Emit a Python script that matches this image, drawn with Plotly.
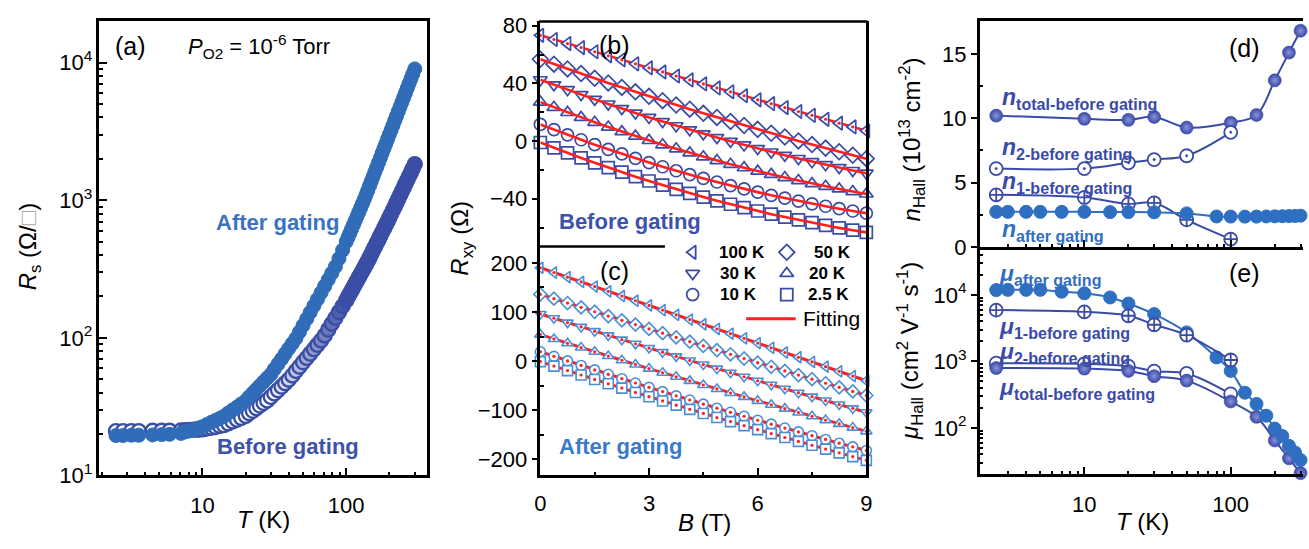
import math
import plotly.graph_objects as go

W, H = 1309, 549
FONT = "Arial, 'Liberation Sans', sans-serif"

C_AFTER_A = "#306cb8"
C_BEFORE_A = "#3b4ea6"
C_DARK = "#3a4aa8"
C_LIGHT = "#2f6fc2"
C_C = "#4a8ed6"
C_RED = "#ff1f1f"

# ---------------- (a) sheet resistance vs temperature ----------------
T_RS = [2.5, 2.8, 3.2, 3.6, 4.5, 5.2, 5.9,
        7.08, 7.59, 8.13, 8.71, 9.33, 10.0, 10.7, 11.5, 12.3, 13.2, 14.1, 15.1, 16.2, 17.4, 18.6, 20.0,
        21.1, 22.4, 23.7, 25.1, 26.6, 28.2, 29.9, 31.6, 33.5, 35.5, 37.6, 39.8, 42.2, 44.7, 47.3, 50.1,
        53.1, 56.2, 59.6, 63.1, 66.8, 70.8, 75.0, 79.4, 84.1, 89.1, 94.4, 100.0,
        102.9, 105.9, 109.0, 112.2, 115.5, 118.9, 122.3, 125.9, 129.6, 133.4, 137.3, 141.3, 145.4, 149.6,
        154.0, 158.5, 163.1, 167.9, 172.8, 177.8, 183.0, 188.4, 193.9, 199.5, 205.4, 211.3, 217.5, 223.9,
        230.4, 237.1, 244.1, 251.2, 258.5, 266.1, 273.8, 281.8, 290.1, 300.0]

RS_AFTER = [19.5, 19.5, 19.6, 19.6, 19.7, 19.8, 19.9,
            20.2, 20.7, 21.1, 21.6, 22.1, 22.6, 23.4, 24.3, 25.1, 26.0, 26.9, 28.4, 29.9, 31.4, 33.1, 34.9,
            37.2, 39.6, 42.2, 44.9, 47.9, 51.0, 54.3, 59.1, 64.4, 70.2, 76.6, 83.5, 91.0, 99.2, 110.4, 123.1,
            137.3, 153.2, 171.0, 190.7, 212.8, 237.3, 264.8, 295.4, 329.5, 376.7, 433.8, 499.4,
            536, 575, 617, 662, 711, 763, 818, 878, 943, 1011, 1092, 1180, 1276, 1379, 1490, 1610, 1741, 1881,
            2033, 2198, 2375, 2567, 2775, 2999, 3241, 3503, 3786, 4092, 4423, 4780, 5167, 5584, 6036, 6523,
            7051, 7620, 8236, 9018]

RS_BEFORE = [21.0, 21.0, 21.0, 21.0, 21.1, 21.1, 21.1,
             21.2, 21.3, 21.4, 21.5, 21.5, 21.6, 21.9, 22.2, 22.5, 22.9, 23.2, 23.9, 24.7, 25.4, 26.2, 27.1,
             28.3, 29.5, 30.8, 32.2, 33.6, 35.1, 37.2, 39.4, 41.7, 44.2, 46.8, 49.6, 53.3, 57.4, 61.7, 66.4,
             71.4, 76.8, 82.7, 88.9, 95.7, 104.0, 114.7, 126.6, 139.6, 153.9, 169.7, 187.2,
             198, 209, 221, 233, 246, 260, 275, 290, 306, 323, 342, 361, 383, 407, 433, 459, 488, 518,
             551, 585, 622, 660, 702, 745, 794, 846, 901, 960, 1023, 1089, 1161, 1237, 1317, 1403,
             1495, 1593, 1697, 1827]

# ---------------- (b), (c) Hall resistance vs field ----------------
B_FIELD = [0, 0.375, 0.75, 1.125, 1.5, 1.875, 2.25, 2.625, 3.0, 3.375, 3.75, 4.125, 4.5,
           4.875, 5.25, 5.625, 6.0, 6.375, 6.75, 7.125, 7.5, 7.875, 8.25, 8.625, 9.0]

TEMP_LABELS = ["100 K", "50 K", "30 K", "20 K", "10 K", "2.5 K"]
TEMP_SYMBOLS = ["triangle-left", "diamond", "triangle-down", "triangle-up", "circle", "square"]

RXY_B_100K = [73.3, 70.4, 67.6, 64.8, 61.9, 59.1, 56.3, 53.5, 50.7, 47.9, 45.1, 42.4, 39.6,
              36.8, 34.1, 31.4, 28.6, 25.9, 23.2, 20.5, 17.8, 15.1, 12.4, 9.8, 7.1]
RXY_B_50K = [56.7, 53.3, 50.0, 46.8, 43.5, 40.3, 37.2, 34.1, 31.0, 28.0, 25.0, 22.1, 19.2,
             16.4, 13.6, 10.8, 8.1, 5.4, 2.8, 0.1, -2.4, -4.9, -7.4, -9.8, -12.2]
RXY_B_30K = [42.5, 39.0, 35.6, 32.2, 28.9, 25.7, 22.5, 19.4, 16.4, 13.5, 10.6, 7.8, 5.0,
             2.4, -0.2, -2.7, -5.2, -7.6, -9.9, -12.1, -14.3, -16.4, -18.4, -20.4, -22.3]
RXY_B_20K = [27.0, 23.4, 19.8, 16.4, 13.0, 9.7, 6.5, 3.4, 0.4, -2.6, -5.4, -8.2, -10.9,
             -13.5, -16.1, -18.5, -20.9, -23.1, -25.3, -27.4, -29.5, -31.4, -33.2, -35.0, -36.7]
RXY_B_10K = [11.5, 7.9, 4.3, 0.9, -2.5, -5.7, -8.9, -12.0, -14.9, -17.8, -20.6, -23.3, -25.9,
             -28.4, -30.9, -33.2, -35.4, -37.6, -39.6, -41.6, -43.5, -45.2, -46.9, -48.5, -50.0]
RXY_B_2K5 = [-1.0, -4.7, -8.2, -11.7, -15.1, -18.4, -21.6, -24.7, -27.7, -30.6, -33.5, -36.2, -38.8,
             -41.4, -43.8, -46.2, -48.5, -50.7, -52.7, -54.7, -56.6, -58.4, -60.2, -61.8, -63.3]

RXY_A_100K = [190.0, 180.4, 170.8, 161.3, 151.7, 142.1, 132.5, 122.9, 113.3, 103.8, 94.2, 84.6, 75.0,
              65.4, 55.8, 46.3, 36.7, 27.1, 17.5, 7.9, -1.7, -11.3, -20.8, -30.4, -40.0]
RXY_A_50K = [136.0, 127.1, 118.2, 109.4, 100.5, 91.7, 83.0, 74.3, 65.5, 56.9, 48.2, 39.6, 31.0,
             22.4, 13.9, 5.3, -3.1, -11.6, -20.0, -28.4, -36.8, -45.1, -53.4, -61.7, -70.0]
RXY_A_30K = [96.0, 87.2, 78.4, 69.7, 61.0, 52.3, 43.7, 35.2, 26.6, 18.2, 9.7, 1.3, -7.0,
             -15.3, -23.6, -31.8, -40.0, -48.2, -56.3, -64.3, -72.4, -80.3, -88.3, -96.2, -104.0]
RXY_A_20K = [54.0, 45.1, 36.3, 27.6, 18.9, 10.3, 1.7, -6.8, -15.3, -23.7, -32.0, -40.3, -48.6,
             -56.7, -64.9, -72.9, -80.9, -88.9, -96.8, -104.6, -112.4, -120.1, -127.8, -135.4, -143.0]
RXY_A_10K = [19.0, 9.7, 0.4, -8.8, -17.9, -26.9, -35.8, -44.6, -53.4, -62.1, -70.7, -79.2, -87.6,
             -95.9, -104.2, -112.3, -120.4, -128.4, -136.3, -144.1, -151.9, -159.5, -167.1, -174.6, -182.0]
RXY_A_2K5 = [-1.0, -10.2, -19.3, -28.3, -37.3, -46.2, -55.0, -63.8, -72.5, -81.1, -89.7, -98.2, -106.6,
             -114.9, -123.2, -131.4, -139.5, -147.6, -155.5, -163.5, -171.3, -179.1, -186.8, -194.4, -202.0]

# ---------------- (d), (e) carrier density and mobility ----------------
T_TWO_BAND = [2.5, 10, 20, 30, 50, 100]
T_TOTAL = [2.5, 10, 20, 30, 50, 100, 150, 200, 250, 300]
T_AFTER = [2.5, 3, 4, 5, 7, 10, 15, 20, 30, 50, 80, 100, 125, 150, 175, 200, 225, 250, 275, 300]

N_TOTAL = [10.2, 9.95, 9.87, 10.1, 9.27, 9.65, 10.25, 12.94, 15.1, 16.8]
N_2 = [6.08, 6.08, 6.53, 6.78, 7.08, 8.9]
N_1 = [4.04, 3.84, 3.34, 3.42, 2.1, 0.6]
N_AFTER = [2.72, 2.72, 2.72, 2.72, 2.72, 2.72, 2.7, 2.7, 2.68, 2.6, 2.36, 2.35, 2.35, 2.35, 2.36,
           2.37, 2.38, 2.39, 2.4, 2.42]

MU_TOTAL = [795, 780, 720, 600, 515, 250, 147, 65, 35, 21]
MU_2 = [940, 920, 850, 713, 660, 325]
MU_1 = [5900, 5550, 4860, 3560, 2490, 1050]
MU_AFTER = [11800, 11900, 11900, 11900, 11160, 10550, 9140, 7410, 5140, 2730, 1150, 721, 339, 230,
            153, 98, 76, 54, 43, 33]


def px(x):
    return x / W


def py(y):
    return 1 - y / H


def ring_fill(t):
    # open rings crowd together as the sweep gets denser, so the band darkens with T
    f = (math.log10(t) - math.log10(30)) / (math.log10(100) - math.log10(30))
    f = min(max(f, 0.0), 1.0)
    r = round(255 + (59 - 255) * f)
    g = round(255 + (78 - 255) * f)
    b = round(255 + (166 - 255) * f)
    return "rgb(%d,%d,%d)" % (r, g, b)


fig = go.Figure()

# ---- (a) ----
fig.add_trace(go.Scatter(
    x=T_RS, y=RS_BEFORE, mode="markers", xaxis="x", yaxis="y", cliponaxis=False, showlegend=False,
    marker=dict(symbol="circle", size=14, color=[ring_fill(t) for t in T_RS],
                line=dict(color=C_BEFORE_A, width=2.4))))
fig.add_trace(go.Scatter(
    x=T_RS, y=RS_AFTER, mode="markers", xaxis="x", yaxis="y", cliponaxis=False, showlegend=False,
    marker=dict(symbol="circle", size=14, color=C_AFTER_A, line=dict(color=C_AFTER_A, width=1))))

# ---- (b) before gating ----
before_series = [RXY_B_100K, RXY_B_50K, RXY_B_30K, RXY_B_20K, RXY_B_10K, RXY_B_2K5]
for i, (vals, sym) in enumerate(zip(before_series, TEMP_SYMBOLS)):
    if i == 0:
        fig.add_trace(go.Scatter(x=B_FIELD, y=vals, mode="lines", xaxis="x2", yaxis="y2", showlegend=False,
                                 line=dict(color=C_RED, width=2.6)))
        fig.add_trace(go.Scatter(x=B_FIELD, y=vals, mode="markers", xaxis="x2", yaxis="y2", showlegend=False,
                                 cliponaxis=False,
                                 marker=dict(symbol=sym, size=12, color="white",
                                             line=dict(color=C_DARK, width=1.7))))
        fig.add_trace(go.Scatter(x=B_FIELD, y=vals, mode="markers", xaxis="x2", yaxis="y2", showlegend=False,
                                 cliponaxis=False, marker=dict(symbol="circle", size=3.2, color=C_RED)))
    else:
        fig.add_trace(go.Scatter(x=B_FIELD, y=vals, mode="markers", xaxis="x2", yaxis="y2", showlegend=False,
                                 cliponaxis=False,
                                 marker=dict(symbol=sym + "-open", size=12, color=C_DARK,
                                             line=dict(color=C_DARK, width=1.7))))
        fig.add_trace(go.Scatter(x=B_FIELD, y=vals, mode="lines", xaxis="x2", yaxis="y2", showlegend=False,
                                 line=dict(color=C_RED, width=2.6)))

# ---- (c) after gating ----
after_series = [RXY_A_100K, RXY_A_50K, RXY_A_30K, RXY_A_20K, RXY_A_10K, RXY_A_2K5]
for vals, sym in zip(after_series, TEMP_SYMBOLS):
    fig.add_trace(go.Scatter(x=B_FIELD, y=vals, mode="lines", xaxis="x3", yaxis="y3", showlegend=False,
                             line=dict(color=C_RED, width=3)))
    fig.add_trace(go.Scatter(x=B_FIELD, y=vals, mode="markers", xaxis="x3", yaxis="y3", showlegend=False,
                             cliponaxis=False,
                             marker=dict(symbol=sym, size=10, color="white", line=dict(color=C_C, width=1.6))))
    fig.add_trace(go.Scatter(x=B_FIELD, y=vals, mode="markers", xaxis="x3", yaxis="y3", showlegend=False,
                             cliponaxis=False, marker=dict(symbol="circle", size=3.2, color=C_RED)))

# ---- legend keys for (b)/(c), drawn on a pixel-scaled overlay axis ----
KEY_X = [693, 788, 693, 788, 693, 788]
KEY_Y = [254, 254, 276, 276, 298, 298]
KEY_TEXT_X = [718, 813, 719, 808, 719, 807]
for kx, ky, sym in zip(KEY_X, KEY_Y, TEMP_SYMBOLS):
    fig.add_trace(go.Scatter(x=[kx], y=[ky], mode="markers", xaxis="x6", yaxis="y6", showlegend=False,
                             cliponaxis=False,
                             marker=dict(symbol=sym + "-open", size=12, color=C_DARK,
                                         line=dict(color=C_DARK, width=1.8))))
fig.add_trace(go.Scatter(x=[747, 797], y=[323, 323], mode="lines", xaxis="x6", yaxis="y6", showlegend=False,
                         line=dict(color=C_RED, width=3)))

# ---- (d) carrier density ----
SPL = dict(shape="spline", smoothing=1.0, width=2)
SPHERE = dict(symbol="circle", size=13, color=C_DARK, gradient=dict(type="radial", color="#8993d8"),
              line=dict(color=C_DARK, width=0.6))
fig.add_trace(go.Scatter(x=T_TOTAL, y=N_TOTAL, mode="lines+markers", xaxis="x4", yaxis="y4", showlegend=False,
                         cliponaxis=False, line=dict(color=C_DARK, **SPL), marker=SPHERE))
fig.add_trace(go.Scatter(x=T_TWO_BAND, y=N_1, mode="lines+markers", xaxis="x4", yaxis="y4", showlegend=False,
                         cliponaxis=False, line=dict(color=C_DARK, **SPL),
                         marker=dict(symbol="circle-cross", size=13, color="white",
                                     line=dict(color=C_DARK, width=1.8))))
fig.add_trace(go.Scatter(x=T_TWO_BAND, y=N_2, mode="lines+markers", xaxis="x4", yaxis="y4", showlegend=False,
                         cliponaxis=False, line=dict(color=C_DARK, **SPL),
                         marker=dict(symbol="circle-dot", size=13, color="white",
                                     line=dict(color=C_DARK, width=1.8))))
fig.add_trace(go.Scatter(x=T_AFTER, y=N_AFTER, mode="lines+markers", xaxis="x4", yaxis="y4", showlegend=False,
                         cliponaxis=False, line=dict(color=C_LIGHT, **SPL),
                         marker=dict(symbol="circle", size=13, color=C_LIGHT, line=dict(color=C_LIGHT, width=1))))

# ---- (e) mobility ----
fig.add_trace(go.Scatter(x=T_TWO_BAND, y=MU_2, mode="lines+markers", xaxis="x5", yaxis="y5", showlegend=False,
                         cliponaxis=False, line=dict(color=C_DARK, **SPL),
                         marker=dict(symbol="circle", size=13, color="white",
                                     line=dict(color=C_DARK, width=1.8))))
fig.add_trace(go.Scatter(x=T_TOTAL, y=MU_TOTAL, mode="lines+markers", xaxis="x5", yaxis="y5", showlegend=False,
                         cliponaxis=False, line=dict(color=C_DARK, **SPL), marker=SPHERE))
fig.add_trace(go.Scatter(x=T_AFTER, y=MU_AFTER, mode="lines+markers", xaxis="x5", yaxis="y5", showlegend=False,
                         cliponaxis=False, line=dict(color=C_LIGHT, **SPL),
                         marker=dict(symbol="circle", size=13, color=C_LIGHT, line=dict(color=C_LIGHT, width=1))))
fig.add_trace(go.Scatter(x=T_TWO_BAND, y=MU_1, mode="lines+markers", xaxis="x5", yaxis="y5", showlegend=False,
                         cliponaxis=False, line=dict(color=C_DARK, **SPL),
                         marker=dict(symbol="circle-cross", size=13, color="white",
                                     line=dict(color=C_DARK, width=1.8))))

# ---------------- axes ----------------
BASE = dict(showgrid=False, zeroline=False, linecolor="black", linewidth=2.5, tickcolor="black",
            tickwidth=2, tickfont=dict(family=FONT, size=22, color="black"))


def minor(vals, side="inside", length=4):
    return dict(tickmode="array", tickvals=vals, ticks=side, ticklen=length, tickwidth=1.5, tickcolor="black")


LOG_T_MINOR = [3, 4, 5, 6, 7, 8, 9, 20, 30, 40, 50, 60, 70, 80, 90, 200, 300]
sup = lambda e: "10<sup>%d</sup>" % e

layout_axes = dict(
    xaxis=dict(BASE, domain=[px(94.3), px(425)], anchor="y", type="log", range=[0.283, 2.563],
               tickmode="array", tickvals=[10, 100], ticktext=["10", "100"], ticks="inside", ticklen=8,
               showline=True, mirror=True, ticklabelstandoff=8, minor=minor([2] + LOG_T_MINOR)),
    yaxis=dict(BASE, domain=[py(486), py(14)], anchor="x", type="log", range=[1, 4.30],
               tickmode="array", tickvals=[10, 100, 1000, 10000], ticktext=[sup(1), sup(2), sup(3), sup(4)],
               ticks="inside", ticklen=8, showline=True, mirror=True,
               minor=minor([20, 30, 40, 50, 60, 70, 80, 90, 200, 300, 400, 500, 600, 700, 800, 900,
                            2000, 3000, 4000, 5000, 6000, 7000, 8000, 9000, 20000])),
    xaxis2=dict(BASE, domain=[px(539.3), px(868.3)], anchor="y2", range=[0, 9], showticklabels=False,
                ticks="", showline=False),
    yaxis2=dict(BASE, domain=[py(248), py(14)], anchor="x2", range=[-73.1, 82.9], tickmode="array",
                tickvals=[-40, 0, 40, 80], ticks="outside", ticklen=6, showline=True, mirror=True,
                minor=minor([-60, -20, 20, 60])),
    xaxis3=dict(BASE, domain=[px(539.3), px(868.3)], anchor="y3", range=[0, 9], tickmode="array",
                tickvals=[0, 3, 6, 9], ticks="inside", ticklen=8, showline=True, mirror=False,
                ticklabelstandoff=6, minor=minor([1.5, 4.5, 7.5])),
    yaxis3=dict(BASE, domain=[py(486), py(248)], anchor="x3", range=[-232.7, 233.3], tickmode="array",
                tickvals=[-200, -100, 0, 100, 200], ticks="outside", ticklen=6, showline=True, mirror=True,
                minor=minor([-150, -50, 50, 150])),
    xaxis4=dict(BASE, domain=[px(982.7), 1.0], anchor="y4", type="log", range=[0.285, 2.494],
                tickmode="array", tickvals=[10, 100], showticklabels=False, ticks="inside", ticklen=8,
                showline=True, mirror=True, minor=minor(LOG_T_MINOR)),
    yaxis4=dict(BASE, domain=[py(249), py(14)], anchor="x4", range=[-0.05, 17.52], tickmode="array",
                tickvals=[0, 5, 10, 15], ticks="outside", ticklen=6, showline=True, mirror=False,
                minor=minor([2.5, 7.5, 12.5])),
    xaxis5=dict(BASE, domain=[px(982.7), 1.0], anchor="y5", type="log", range=[0.285, 2.494],
                tickmode="array", tickvals=[10, 100], ticktext=["10", "100"], ticks="inside", ticklen=8,
                showline=True, mirror=False, ticklabelstandoff=8, minor=minor(LOG_T_MINOR)),
    yaxis5=dict(BASE, domain=[py(485), py(249)], anchor="x5", type="log", range=[1.302, 4.712],
                tickmode="array", tickvals=[100, 1000, 10000], ticktext=[sup(2), sup(3), sup(4)],
                ticks="outside", ticklen=6, showline=True, mirror=False,
                minor=minor([30, 40, 50, 60, 70, 80, 90, 200, 300, 400, 500, 600, 700, 800, 900,
                             2000, 3000, 4000, 5000, 6000, 7000, 8000, 9000, 20000, 30000, 40000, 50000])),
    xaxis6=dict(domain=[px(650), px(870)], anchor="y6", range=[650, 870], visible=False),
    yaxis6=dict(domain=[py(345), py(240)], anchor="x6", range=[345, 240], visible=False),
)


def note(text, x, y, size, color="black", xanchor="center", angle=0):
    return dict(text=text, x=px(x), y=py(y), xref="paper", yref="paper", showarrow=False,
                xanchor=xanchor, yanchor="middle", textangle=angle,
                font=dict(family=FONT, size=size, color=color))


annotations = [
    # panel (a)
    note("(a)", 126, 39, 25),
    note("<i>P</i><sub>O2</sub> = 10<sup>-6</sup> Torr", 182, 40, 22, xanchor="left"),
    note("<b>After gating</b>", 274, 223, 22, color="#3a72c4"),
    note("<b>Before gating</b>", 285, 456, 22, color="#3d52aa"),
    note("<i>R</i><sub>s</sub> (Ω/<span style='color:#b7a9a9'>□</span>)", 24, 248, 24, angle=-90),
    note("<i>T</i> (K)", 260, 532, 24),
    # panels (b), (c)
    note("(b)", 614, 38, 25),
    note("<b>Before gating</b>", 630, 222, 22, color="#3d52aa"),
    note("(c)", 614, 273, 25),
    note("<b>After gating</b>", 620, 456, 22, color="#3a78c8"),
    note("<i>R</i><sub>xy</sub> (Ω)", 460, 239, 24, angle=-90),
    note("<i>B</i> (T)", 705, 535, 24),
    note("Fitting", 802, 323, 21, xanchor="left"),
    # panels (d), (e)
    note("(d)", 1250, 42, 25),
    note("(e)", 1250, 276, 25),
    note("<i>n</i><sub>Hall</sub> (10<sup>13</sup> cm<sup>-2</sup>)", 914, 137, 24, angle=-90),
    note("<i>μ</i><sub>Hall</sub> (cm<sup>2</sup> V<sup>-1</sup> s<sup>-1</sup>)", 913, 357, 24, angle=-90),
    note("<i>T</i> (K)", 1147, 534, 24),
    note("<b><i>n</i><sub>total-before gating</sub></b>", 1003, 94, 23, color=C_DARK, xanchor="left"),
    note("<b><i>n</i><sub>2-before gating</sub></b>", 1003, 146, 23, color=C_DARK, xanchor="left"),
    note("<b><i>n</i><sub>1-before gating</sub></b>", 1003, 181, 23, color=C_DARK, xanchor="left"),
    note("<b><i>n</i><sub>after gating</sub></b>", 1003, 231, 23, color=C_LIGHT, xanchor="left"),
    note("<b><i>μ</i><sub>after gating</sub></b>", 1000, 277, 23, color=C_LIGHT, xanchor="left"),
    note("<b><i>μ</i><sub>1-before gating</sub></b>", 1000, 332, 23, color=C_DARK, xanchor="left"),
    note("<b><i>μ</i><sub>2-before gating</sub></b>", 1000, 358, 23, color=C_DARK, xanchor="left"),
    note("<b><i>μ</i><sub>total-before gating</sub></b>", 1000, 396, 23, color=C_DARK, xanchor="left"),
]
for label, tx, ty in zip(TEMP_LABELS, KEY_TEXT_X, KEY_Y):
    annotations.append(note("<b>%s</b>" % label, tx, ty, 17, xanchor="left"))

shapes = [
    dict(type="line", xref="paper", yref="paper", x0=px(538), x1=px(869.5), y0=py(14), y1=py(14),
         line=dict(color="black", width=2.5), layer="above"),
    dict(type="line", xref="paper", yref="paper", x0=px(538), x1=px(665), y0=py(248), y1=py(248),
         line=dict(color="black", width=2.5), layer="above"),
]

fig.update_layout(
    width=W, height=H, autosize=False, margin=dict(l=0, r=0, t=0, b=0),
    paper_bgcolor="white", plot_bgcolor="rgba(0,0,0,0)", showlegend=False,
    font=dict(family=FONT, color="black"),
    annotations=annotations, shapes=shapes, **layout_axes,
)

fig.write_html("out.html")
